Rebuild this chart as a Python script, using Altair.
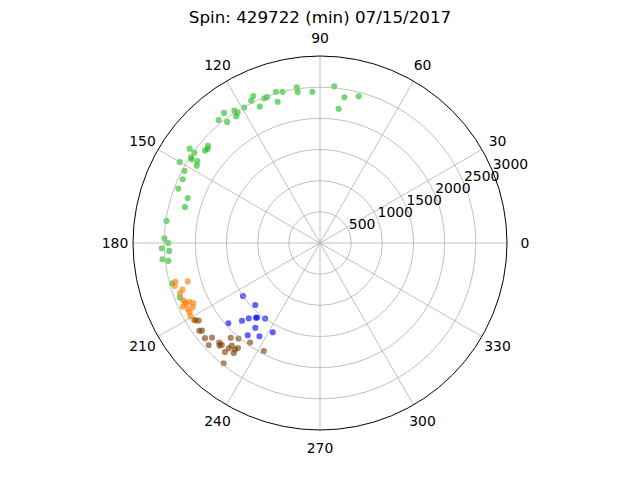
import math
import altair as alt
import pandas as pd

TITLE = "Spin: 429722 (min) 07/15/2017"

green_theta = [75.2, 80.5, 82.1, 84.8, 92.9, 98.4, 98.5, 103.9, 106.2, 106.7, 109.9, 111.1,
               113.8, 114.4, 115.8, 119.2, 122.3, 122.9, 123.5, 126.4, 129.5, 127.5, 139.1, 140.1,
               141.2, 144.1, 144.3, 146.4, 146.9, 146.3, 147.9, 150.0, 152.0, 155.1, 159.0, 161.2,
               165.1, 171.8, 178.3, 180.0, 181.9, 183.0, 185.9, 186.7, 195.2, 201.3]
green_r = [2434, 2370, 2175, 2524, 2430, 2448, 2525, 2498, 2527, 2366, 2490, 2487,
           2394, 2590, 2534, 2491, 2473, 2529, 2439, 2593, 2557, 2449, 2378, 2350,
           2366, 2581, 2483, 2485, 2458, 2365, 2335, 2599, 2462, 2429, 2436, 2242,
           2242, 2488, 2496, 2434, 2541, 2423, 2540, 2450, 2461, 2412]

orange_theta = [194.9, 196.2, 196.5, 198.7, 199.8, 202.8, 203.8, 204.2, 205.4, 204.9, 204.6,
                206.7, 206.8, 208.0, 209.4, 211.3]
orange_r = [2402, 2210, 2431, 2329, 2387, 2377, 2367, 2299, 2251, 2429, 2360,
            2370, 2288, 2368, 2388, 2371]

brown_theta = [212.6, 211.8, 216.0, 216.6, 219.6, 221.2, 222.5, 224.7, 226.0, 225.6, 226.7,
               229.5, 229.3, 232.0, 231.4, 228.9, 231.9, 234.9, 242.5, 231.3, 229.1]
brown_r = [2311, 2354, 2394, 2359, 2395, 2303, 2422, 2274, 2269, 2303, 2089,
           2014, 2170, 2139, 2186, 2320, 2243, 1952, 1953, 2472, 2236]

blue_theta = [214.5, 223.8, 221.2, 224.9, 226.6, 229.4, 234.0, 232.7, 242.1, 231.9, 237.0, 229.8]
blue_r = [1500, 1438, 1954, 1767, 1664, 1579, 1497, 1711, 1620, 1880, 1783, 1565]

groups = ["green", "orange", "brown", "blue"]
group_colors = ["#1fbf1f", "#ff7a00", "#7a3f00", "#0000ff"]

ring_values = [500, 1000, 1500, 2000, 2500]
ring_labels = ["500", "1000", "1500", "2000", "2500", "3000"]
ring_label_values = [500, 1000, 1500, 2000, 2500, 3000]
angle_ticks = [0, 30, 60, 90, 120, 150, 180, 210, 240, 270, 300, 330]
angle_labels = [str(a) for a in angle_ticks]

# layout
R_MAX = 3000
R_PX = 187
W, H = 624, 460
CX, CY = 312, 235
K = R_MAX / R_PX
LABEL_R = 205 * K
RLABEL_ANGLE = 22.5
FONT = "DejaVu Sans"

xs = alt.Scale(domain=[-CX * K, (W - CX) * K], nice=False, zero=False)
ys = alt.Scale(domain=[-(H - CY) * K, CY * K], nice=False, zero=False)
rscale = alt.Scale(type="linear", domain=[0, R_MAX], range=[0, R_PX], zero=True)

rows = []
for name, th, rr in [("green", green_theta, green_r), ("orange", orange_theta, orange_r),
                     ("brown", brown_theta, brown_r), ("blue", blue_theta, blue_r)]:
    for t, r in zip(th, rr):
        rows.append({"group": name, "theta": t, "r": r})
pts = pd.DataFrame(rows)

points = alt.Chart(pts).mark_circle(size=38, opacity=0.62).transform_calculate(
    px="datum.r * cos(datum.theta * PI / 180)",
    py="datum.r * sin(datum.theta * PI / 180)",
).encode(
    x=alt.X("px:Q", scale=xs, axis=None),
    y=alt.Y("py:Q", scale=ys, axis=None),
    color=alt.Color("group:N", scale=alt.Scale(domain=groups, range=group_colors), legend=None),
)

rings = alt.Chart(pd.DataFrame({"r": ring_values})).mark_arc(
    theta=0, theta2=2 * math.pi, fillOpacity=0, stroke="#b0b0b0", strokeWidth=0.8
).encode(
    x=alt.X(datum=0, scale=xs, axis=None),
    y=alt.Y(datum=0, scale=ys, axis=None),
    radius=alt.Radius("r:Q", scale=rscale, stack=None),
)

outer = alt.Chart(pd.DataFrame({"r": [R_MAX]})).mark_arc(
    theta=0, theta2=2 * math.pi, fillOpacity=0, stroke="black", strokeWidth=1
).encode(
    x=alt.X(datum=0, scale=xs, axis=None),
    y=alt.Y(datum=0, scale=ys, axis=None),
    radius=alt.Radius("r:Q", scale=rscale, stack=None),
)

spokes = alt.Chart(pd.DataFrame({"a": angle_ticks})).transform_calculate(
    x0="0", y0="0",
    x1=f"{R_MAX} * cos(datum.a * PI / 180)",
    y1=f"{R_MAX} * sin(datum.a * PI / 180)",
).mark_rule(color="#b0b0b0", strokeWidth=0.8).encode(
    x=alt.X("x0:Q", scale=xs, axis=None),
    y=alt.Y("y0:Q", scale=ys, axis=None),
    x2="x1:Q",
    y2="y1:Q",
)

angle_text = alt.Chart(pd.DataFrame({"a": angle_ticks, "label": angle_labels})).transform_calculate(
    lx=f"{LABEL_R} * cos(datum.a * PI / 180)",
    ly=f"{LABEL_R} * sin(datum.a * PI / 180)",
).mark_text(font=FONT, fontSize=13.9, align="center", baseline="middle", dy=1, color="black").encode(
    x=alt.X("lx:Q", scale=xs, axis=None),
    y=alt.Y("ly:Q", scale=ys, axis=None),
    text="label:N",
)

radial_text = alt.Chart(pd.DataFrame({"r": ring_label_values, "label": ring_labels})).transform_calculate(
    lx=f"datum.r * cos({RLABEL_ANGLE} * PI / 180)",
    ly=f"datum.r * sin({RLABEL_ANGLE} * PI / 180)",
).mark_text(font=FONT, fontSize=13.9, align="left", baseline="alphabetic", dy=-2, color="black").encode(
    x=alt.X("lx:Q", scale=xs, axis=None),
    y=alt.Y("ly:Q", scale=ys, axis=None),
    text="label:N",
)

title = alt.Chart(pd.DataFrame({"t": [TITLE]})).mark_text(
    font=FONT, fontSize=16.7, align="center", baseline="alphabetic", color="black"
).encode(
    x=alt.value(CX),
    y=alt.value(15),
    text="t:N",
)

chart = alt.layer(points, rings, spokes, outer, angle_text, radial_text, title).properties(
    width=W, height=H,
    autosize=alt.AutoSizeParams(type="none"),
    padding=0,
).configure_view(stroke=None)

chart.save("out.html", embed_options={"renderer": "svg", "actions": False})
